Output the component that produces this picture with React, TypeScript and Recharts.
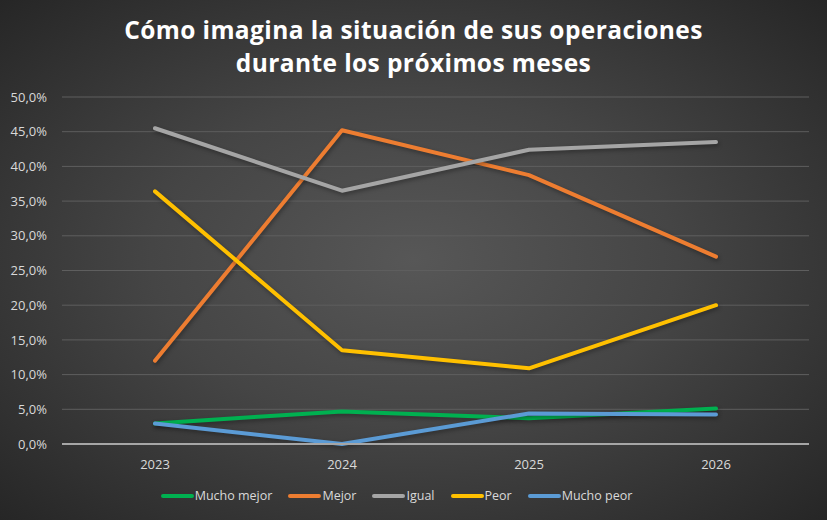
import React from 'react';
import { LineChart, Line, XAxis, YAxis, CartesianGrid, Legend } from 'recharts';

const years = ['2023', '2024', '2025', '2026'];
const muchoMejor = [2.95, 4.7, 3.7, 5.1];
const mejor = [12.0, 45.2, 38.75, 27.0];
const igual = [45.5, 36.5, 42.4, 43.5];
const peor = [36.4, 13.5, 10.9, 20.0];
const muchoPeor = [2.95, 0.0, 4.4, 4.25];
const yTicks = [0, 5, 10, 15, 20, 25, 30, 35, 40, 45, 50];

const series = [
  { key: 'muchoMejor', name: 'Mucho mejor', color: '#00B050', values: muchoMejor },
  { key: 'mejor', name: 'Mejor', color: '#ED7D31', values: mejor },
  { key: 'igual', name: 'Igual', color: '#A5A5A5', values: igual },
  { key: 'peor', name: 'Peor', color: '#FFC000', values: peor },
  { key: 'muchoPeor', name: 'Mucho peor', color: '#5B9BD5', values: muchoPeor },
];

const data = years.map((year, i) => {
  const row: Record<string, string | number> = { year };
  series.forEach((s) => {
    row[s.key] = s.values[i];
  });
  return row;
});

const fmt = (v: number) => v.toFixed(1).replace('.', ',') + '%';

const LegendContent = () => (
  <div style={{ display: 'flex', justifyContent: 'center', alignItems: 'center', fontSize: 12.5, color: '#d9d9d9', fontFamily: '"Open Sans", sans-serif' }}>
    {series.map((s) => (
      <div key={s.key} style={{ display: 'flex', alignItems: 'center', marginRight: 16 }}>
        <span style={{ display: 'inline-block', width: 33, height: 4, borderRadius: 2, background: s.color, marginRight: 1 }} />
        <span>{s.name}</span>
      </div>
    ))}
  </div>
);

export default function App() {
  return (
    <div
      style={{
        position: 'absolute',
        left: 0,
        top: 0,
        width: 827,
        height: 520,
        background: 'radial-gradient(ellipse at center, #575757 0%, #454545 45%, #262626 100%)',
        fontFamily: '"Open Sans", sans-serif',
        overflow: 'hidden',
      }}
    >
      <div
        style={{
          position: 'absolute',
          top: 13,
          left: 0,
          width: 827,
          textAlign: 'center',
          color: '#ffffff',
          fontWeight: 700,
          fontSize: 24.5,
          lineHeight: '33px',
          letterSpacing: 0.4,
        }}
      >
        Cómo imagina la situación de sus operaciones
        <br />
        durante los próximos meses
      </div>
      <LineChart width={827} height={520} data={data} margin={{ top: 97, right: 18, bottom: 19, left: 0 }}>
        <CartesianGrid vertical={false} stroke="#5e5e5e" strokeWidth={1} />
        <XAxis
          dataKey="year"
          padding={{ left: 93, right: 93 }}
          tickLine={false}
          axisLine={{ stroke: '#a6a6a6', strokeWidth: 2 }}
          tick={{ fill: '#d9d9d9', fontSize: 13 }}
          tickMargin={10}
          height={40}
        />
        <YAxis
          domain={[0, 50]}
          ticks={yTicks}
          tickFormatter={fmt}
          tickLine={false}
          axisLine={false}
          tick={{ fill: '#d9d9d9', fontSize: 13 }}
          width={62}
          tickMargin={9}
        />
        <Legend verticalAlign="bottom" content={<LegendContent />} wrapperStyle={{ bottom: 16 }} />
        {series.map((s) => (
          <Line
            key={s.key}
            type="linear"
            dataKey={s.key}
            name={s.name}
            stroke={s.color}
            strokeWidth={4}
            strokeLinecap="round"
            strokeLinejoin="round"
            dot={false}
            activeDot={false}
            isAnimationActive={false}
            style={{ filter: 'drop-shadow(1px 2px 2px rgba(0,0,0,0.35))' }}
          />
        ))}
      </LineChart>
    </div>
  );
}
